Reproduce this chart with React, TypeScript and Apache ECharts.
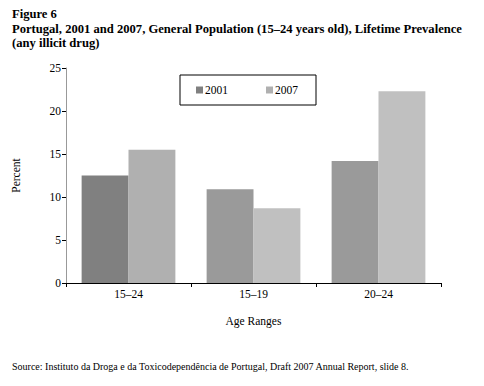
import React, { useEffect, useRef } from "react";
import * as echarts from "echarts";

const categories = ["15–24", "15–19", "20–24"];
const seriesNames = ["2001", "2007"];
const values2001 = [12.5, 10.9, 14.2];
const values2007 = [15.5, 8.7, 22.3];
const colors2001 = ["#808080", "#9a9a9a", "#9a9a9a"];
const colors2007 = ["#b0b0b0", "#c0c0c0", "#c0c0c0"];
const yTicks = [0, 5, 10, 15, 20, 25];

const titleLines = [
  "Figure 6",
  "Portugal, 2001 and 2007, General Population (15–24 years old), Lifetime Prevalence",
  "(any illicit drug)",
];
const sourceText =
  "Source: Instituto da Droga e da Toxicodependência de Portugal, Draft 2007 Annual Report, slide 8.";

const FONT = "Liberation Serif";

export default function App() {
  const ref = useRef<HTMLDivElement>(null);
  useEffect(() => {
    if (!ref.current) return;
    const chart = echarts.init(ref.current, undefined, { renderer: "svg" });
    chart.setOption({
      animation: false,
      backgroundColor: "#ffffff",
      textStyle: { fontFamily: FONT },
      title: {
        text: titleLines.join("\n"),
        left: 12,
        top: 7,
        padding: 0,
        textStyle: {
          fontFamily: FONT,
          fontSize: 12.6,
          fontWeight: "bold",
          color: "#000",
          lineHeight: 14.5,
        },
      },
      legend: {
        data: seriesNames,
        left: 180,
        top: 75,
        width: 135,
        orient: "horizontal",
        itemWidth: 7,
        itemHeight: 7,
        itemGap: 38,
        borderColor: "#000",
        borderWidth: 1,
        borderRadius: 0,
        padding: [9, 18, 9, 16],
        icon: "rect",
        textStyle: { fontFamily: FONT, fontSize: 11.5, color: "#000", padding: [0, 0, 0, -3] },
      },
      grid: { left: 66, top: 68, width: 375, height: 215 },
      xAxis: {
        type: "category",
        data: categories,
        name: "Age Ranges",
        nameLocation: "middle",
        nameGap: 32,
        nameTextStyle: { fontFamily: FONT, fontSize: 11.5, color: "#000" },
        axisLine: { lineStyle: { color: "#000", width: 1 } },
        axisTick: { show: true, length: 4, lineStyle: { color: "#000" } },
        axisLabel: { fontFamily: FONT, fontSize: 11.5, color: "#000", margin: 5 },
      },
      yAxis: {
        type: "value",
        min: 0,
        max: 25,
        interval: 5,
        name: "Percent",
        nameLocation: "middle",
        nameGap: 44,
        nameRotate: 90,
        nameTextStyle: { fontFamily: FONT, fontSize: 11.5, color: "#000" },
        axisLine: { show: true, lineStyle: { color: "#999", width: 1 } },
        axisTick: { show: true, length: 4, lineStyle: { color: "#000" } },
        axisLabel: {
          fontFamily: FONT,
          fontSize: 11.5,
          color: "#000",
          margin: 5,
          formatter: (v: number) => (yTicks.includes(v) ? String(v) : ""),
        },
        splitLine: { show: false },
      },
      series: [
        {
          name: seriesNames[0],
          type: "bar",
          barGap: "0%",
          barCategoryGap: "25%",
          itemStyle: { color: colors2001[0] },
          data: values2001.map((v, i) => ({ value: v, itemStyle: { color: colors2001[i] } })),
        },
        {
          name: seriesNames[1],
          type: "bar",
          itemStyle: { color: colors2007[0] },
          data: values2007.map((v, i) => ({ value: v, itemStyle: { color: colors2007[i] } })),
        },
      ],
      graphic: [
        {
          type: "text",
          left: 12,
          top: 361,
          style: { text: sourceText, fontFamily: FONT, fontSize: 10, fill: "#000" },
        },
      ],
    });
    return () => chart.dispose();
  }, []);
  return (
    <div
      ref={ref}
      style={{ position: "fixed", left: 0, top: 0, width: 484, height: 386 }}
    />
  );
}
